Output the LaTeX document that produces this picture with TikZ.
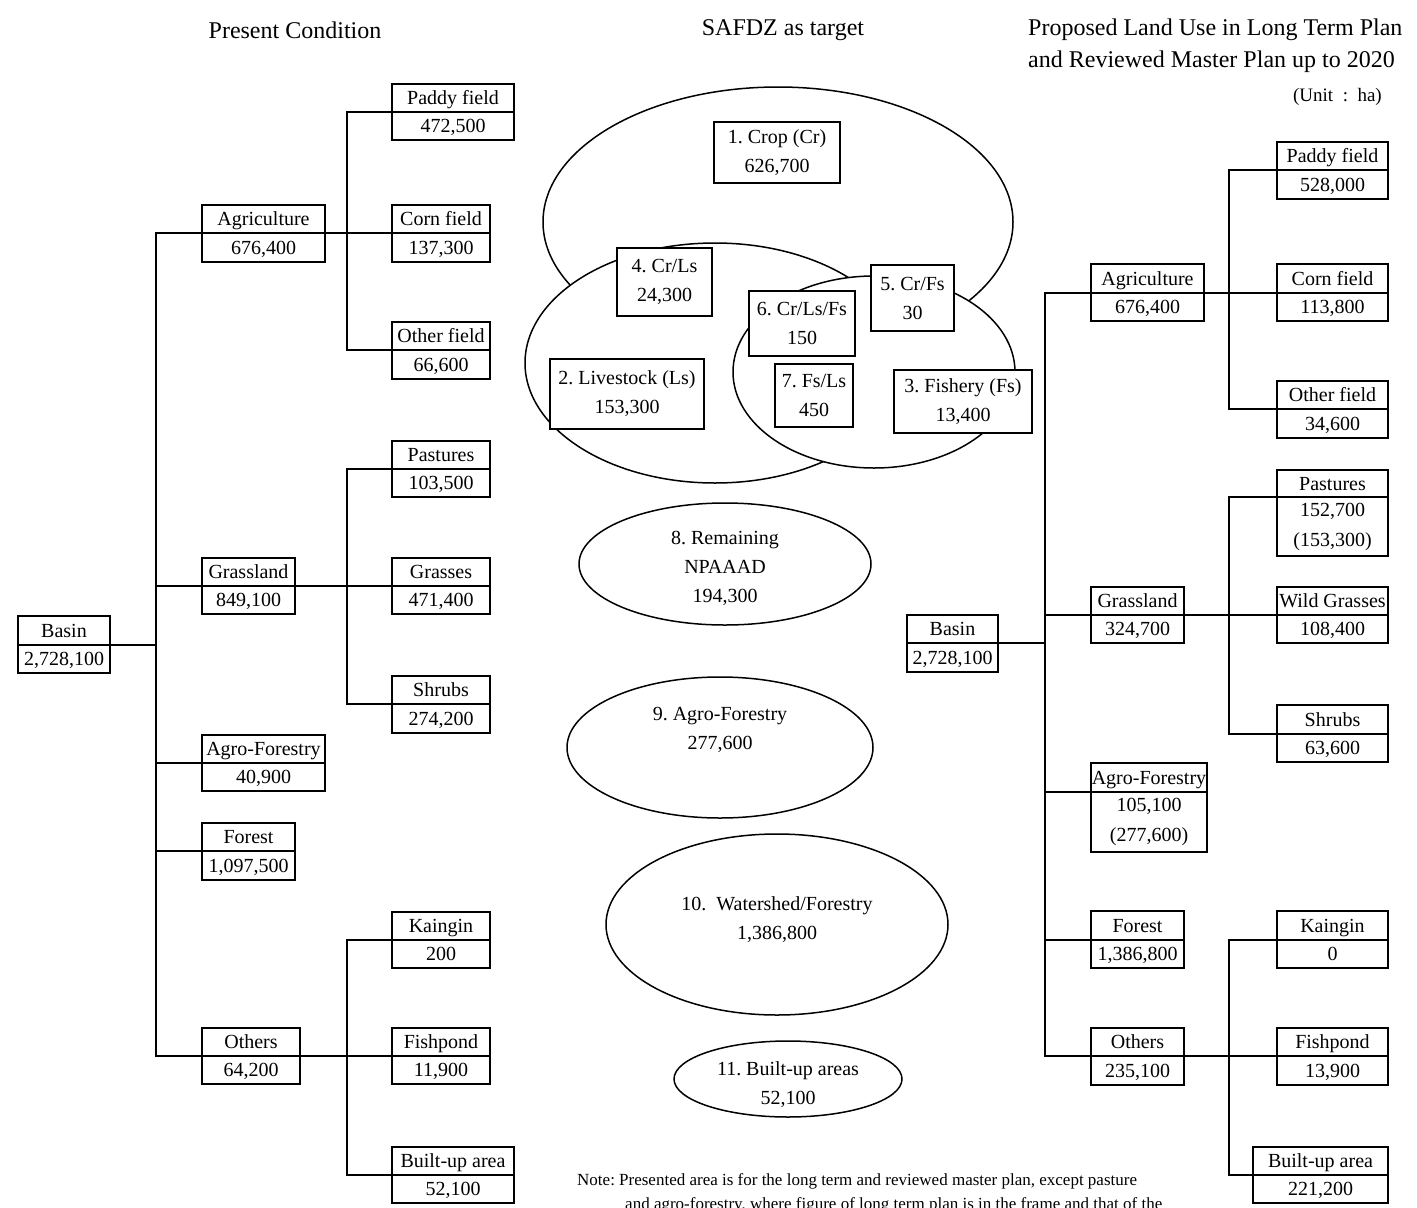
\documentclass[tikz,border=0pt]{standalone}
\usepackage{fontspec}
\setmainfont{Liberation Serif}
\usetikzlibrary{shapes.geometric}
\frenchspacing
\newcommand\tbox[8]{%
  \node[cell, minimum width={(#3-#2)*1pt}, minimum height={(#5-#4)*1pt}] (#1) at ({(#2+#3)/2},{(#4+#5)/2}) {#7};
  \node[cell, minimum width={(#3-#2)*1pt}, minimum height={(#6-#5)*1pt}] (#1v) at ({(#2+#3)/2},{(#5+#6)/2}) {#8};
}
\newcommand\tboxm[8]{%
  \node[cell, minimum width={(#3-#2)*1pt}, minimum height={(#5-#4)*1pt}] (#1) at ({(#2+#3)/2},{(#4+#5)/2}) {#7};
  \node[cellbase, align=center, minimum width={(#3-#2)*1pt}, minimum height={(#6-#5)*1pt}] (#1v) at ({(#2+#3)/2},{(#5+#6)/2}) {#8};
}
\begin{document}
\frenchspacing
\begin{tikzpicture}[x=1pt,y=-1pt,
  cellbase/.style={draw, line width=2.9pt, fill=white, inner sep=0pt, outer sep=0pt, font=\fontsize{20}{30}\selectfont},
  cell/.style={cellbase, text height=14pt, text depth=1pt},
  conn/.style={line width=2.9pt},
  vbox/.style={draw, line width=1.8pt, fill=white, inner sep=0pt, align=center, font=\fontsize{20}{29}\selectfont},
  oval/.style={draw, line width=1.5pt, fill=white, ellipse, inner sep=0pt},
  title/.style={font=\fontsize{24}{28}\selectfont, inner sep=0pt},
  txt/.style={font=\fontsize{20}{29}\selectfont, inner sep=0pt, align=center},
  notetxt/.style={font=\fontsize{17}{20}\selectfont, inner sep=0pt}
]
\fill[white] (0,0) rectangle (1417,1208);
\useasboundingbox (0,0) rectangle (1417,1208);

% titles
\node[title] (t1) at (295,30) {Present Condition};
\node[title] (t2) at (783,30) {SAFDZ as target};
\node[title, anchor=west] (t3) at (1028,30) {Proposed Land Use in Long Term Plan};
\node[title, anchor=west] (t4) at (1028,62) {and Reviewed Master Plan up to 2020};
\node[font=\fontsize{19}{22}\selectfont, inner sep=0pt, anchor=east] (unit) at (1382,97) {(Unit\ \ :\ \ ha)};

% ---------- left tree ----------
\tbox{paddyL}{392}{514}{84}{112}{140}{Paddy field}{472,500}
\tbox{agrL}{202}{325}{205}{233}{262}{Agriculture}{676,400}
\tbox{cornL}{392}{490}{205}{233}{262}{Corn field}{137,300}
\tbox{othfL}{392}{490}{322}{350}{379}{Other field}{66,600}
\tbox{pastL}{392}{490}{441}{469}{497}{Pastures}{103,500}
\tbox{grL}{202}{295}{558}{586}{614}{Grassland}{849,100}
\tbox{grsL}{392}{490}{558}{586}{614}{Grasses}{471,400}
\tbox{basL}{18}{110}{616}{645}{673}{Basin}{2,728,100}
\tbox{shrL}{392}{490}{676}{704}{733}{Shrubs}{274,200}
\tbox{afL}{202}{325}{735}{763}{791}{Agro-Forestry}{40,900}
\tbox{forL}{202}{295}{823}{851}{880}{Forest}{1,097,500}
\tbox{kaiL}{392}{490}{912}{940}{968}{Kaingin}{200}
\tbox{othL}{202}{300}{1028}{1056}{1084}{Others}{64,200}
\tbox{fishL}{392}{490}{1028}{1056}{1084}{Fishpond}{11,900}
\tbox{buL}{392}{514}{1147}{1175}{1203}{Built-up area}{52,100}

\coordinate (tL) at (156,0);
\coordinate (bL) at (347,0);
\draw[conn] (basL.south east) -- (basL.south east -| tL);
\draw[conn] (agrL.south west) -- (agrL.south west -| tL) -- (othL.south west -| tL) -- (othL.south west);
\draw[conn] (grL.south west) -- (grL.south west -| tL);
\draw[conn] (afL.south west) -- (afL.south west -| tL);
\draw[conn] (forL.south west) -- (forL.south west -| tL);
\draw[conn] (paddyL.south west) -- (paddyL.south west -| bL) -- (othfL.south west -| bL) -- (othfL.south west);
\draw[conn] (agrL.south east) -- (cornL.south west);
\draw[conn] (pastL.south west) -- (pastL.south west -| bL) -- (shrL.south west -| bL) -- (shrL.south west);
\draw[conn] (grL.south east) -- (grsL.south west);
\draw[conn] (kaiL.south west) -- (kaiL.south west -| bL) -- (buL.south west -| bL) -- (buL.south west);
\draw[conn] (othL.south east) -- (fishL.south west);

% ---------- right tree ----------
\tbox{paddyR}{1277}{1388}{142}{170}{199}{Paddy field}{528,000}
\tbox{agrR}{1091}{1204}{264}{293}{321}{Agriculture}{676,400}
\tbox{cornR}{1277}{1388}{264}{293}{321}{Corn field}{113,800}
\tbox{othfR}{1277}{1388}{381}{409}{438}{Other field}{34,600}
\tboxm{pastR}{1277}{1388}{470}{497}{556}{Pastures}{152,700\\(153,300)}
\tbox{grR}{1091}{1184}{587}{615}{643}{Grassland}{324,700}
\tbox{wgR}{1277}{1388}{587}{615}{643}{Wild Grasses}{108,400}
\tbox{basR}{907}{998}{615}{643}{672}{Basin}{2,728,100}
\tbox{shrR}{1277}{1388}{705}{734}{762}{Shrubs}{63,600}
\tboxm{afR}{1091}{1207}{763}{792}{852}{Agro-Forestry}{105,100\\(277,600)}
\tbox{forR}{1091}{1184}{911}{940}{968}{Forest}{1,386,800}
\tbox{kaiR}{1277}{1388}{911}{940}{968}{Kaingin}{0}
\tbox{othR}{1091}{1184}{1028}{1056}{1085}{Others}{235,100}
\tbox{fishR}{1277}{1388}{1028}{1056}{1085}{Fishpond}{13,900}
\tbox{buR}{1253}{1388}{1147}{1175}{1203}{Built-up area}{221,200}

\coordinate (tR) at (1045,0);
\coordinate (bR) at (1229,0);
\draw[conn] (basR.south east) -- (basR.south east -| tR);
\draw[conn] (agrR.south west) -- (agrR.south west -| tR) -- (othR.south west -| tR) -- (othR.south west);
\draw[conn] (grR.south west) -- (grR.south west -| tR);
\draw[conn] (afR.south west) -- (afR.south west -| tR);
\draw[conn] (forR.south west) -- (forR.south west -| tR);
\draw[conn] (paddyR.south west) -- (paddyR.south west -| bR) -- (othfR.south west -| bR) -- (othfR.south west);
\draw[conn] (agrR.south east) -- (cornR.south west);
\draw[conn] (pastR.south west) -- (pastR.south west -| bR) -- (shrR.south west -| bR) -- (shrR.south west);
\draw[conn] (grR.south east) -- (wgR.south west);
\draw[conn] (kaiR.south west) -- (kaiR.south west -| bR) -- (buR.south west -| bR) -- (buR.south west);
\draw[conn] (othR.south east) -- (fishR.south west);

% ---------- SAFDZ ----------
\node[oval, minimum width=470pt, minimum height=270pt] (crop) at (778,222) {};
\node[oval, minimum width=380pt, minimum height=240pt] (live) at (715,363) {};
\node[oval, minimum width=282pt, minimum height=192pt] (fish) at (874,372) {};

\node[vbox, minimum width=126pt, minimum height=61pt] (v1) at (777,152.5) {1. Crop (Cr)\\626,700};
\node[vbox, minimum width=95pt, minimum height=68pt] (v4) at (664.5,282) {4. Cr/Ls\\24,300};
\node[vbox, minimum width=83pt, minimum height=66pt] (v5) at (912.5,298) {5. Cr/Fs\\30};
\node[vbox, minimum width=106pt, minimum height=65pt] (v6) at (802,323.5) {6. Cr/Ls/Fs\\150};
\node[vbox, minimum width=78pt, minimum height=63pt] (v7) at (814,395.5) {7. Fs/Ls\\450};
\node[vbox, minimum width=154pt, minimum height=70pt] (v2) at (627,394) {2. Livestock (Ls)\\153,300};
\node[vbox, minimum width=138pt, minimum height=63pt] (v3) at (963,401.5) {3. Fishery (Fs)\\13,400};

\node[oval, minimum width=292pt, minimum height=122pt] (e8) at (725,564) {};
\node[txt] (e8t) at (725,568) {8. Remaining\\NPAAAD\\194,300};
\node[oval, minimum width=306pt, minimum height=141pt] (e9) at (720,747.5) {};
\node[txt] (e9t) at (720,730) {9. Agro-Forestry\\277,600};
\node[oval, minimum width=342pt, minimum height=181pt] (e10) at (777,924.5) {};
\node[txt] (e10t) at (777,920) {10.\ \ Watershed/Forestry\\1,386,800};
\node[oval, minimum width=228pt, minimum height=76pt] (e11) at (788,1079) {};
\node[txt] (e11t) at (788,1085) {11. Built-up areas\\52,100};

% note
\node[notetxt, anchor=base west] (n0) at (577,1185) {Note:};
\node[notetxt, anchor=base west] (n1) at (619,1185) {Presented area is for the long term and reviewed master plan, except pasture};
\node[notetxt, anchor=base west] (n2) at (625,1209) {and agro-forestry, where figure of long term plan is in the frame and that of the};
\end{tikzpicture}
\end{document}
